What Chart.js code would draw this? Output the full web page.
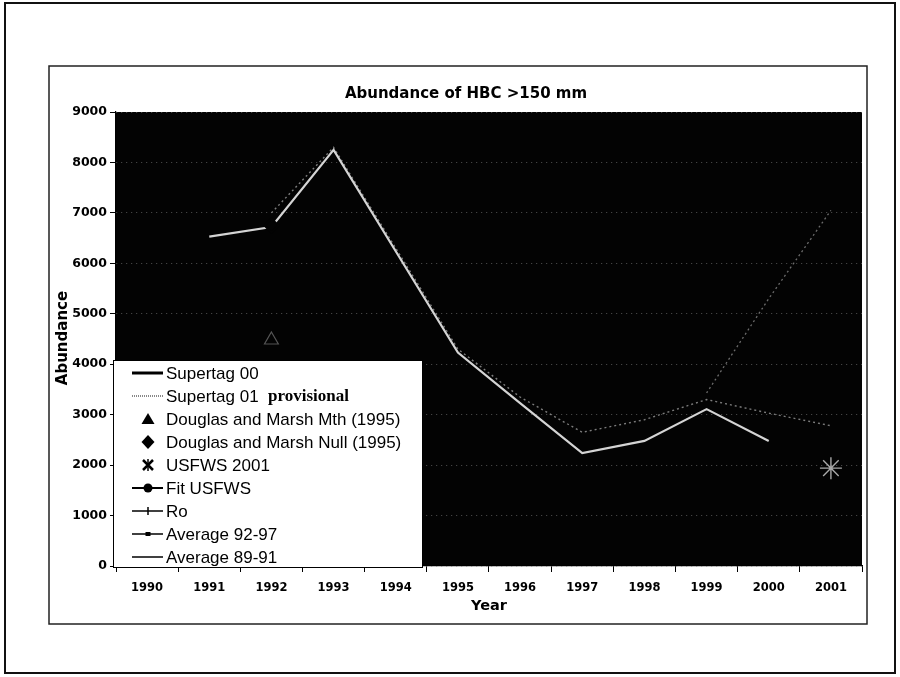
<!DOCTYPE html>
<html><head><meta charset="utf-8">
<script src="https://cdn.jsdelivr.net/npm/chart.js@4.4.1/dist/chart.umd.min.js"></script>
<style>html,body{margin:0;padding:0;background:#fff;}#wrap{width:900px;height:677px;}</style>
</head><body><div id="wrap"><canvas id="c" width="900" height="677"></canvas></div>
<script>
// ---- data ----
const years = ['1990','1991','1992','1993','1994','1995','1996','1997','1998','1999','2000','2001'];
const yMin = 0, yMax = 9000, yStep = 1000;
const chartTitle = 'Abundance of HBC >150 mm';
const xTitle = 'Year';
const yTitle = 'Abundance';
const seriesNames = ['Supertag 00','Supertag 01','Douglas and Marsh Mth (1995)','Douglas and Marsh Null (1995)','USFWS 2001','Fit USFWS','Ro','Average 92-97','Average 89-91'];
const supertag00   = [null,6530,6720,8250,6240,4230,3230,2240,2480,3110,2480,null];
const supertag01   = [null,null,7000,8300,6300,4300,3350,2650,2900,3300,3030,2780];
const douglasMth   = [null,null,4480,null,null,null,null,null,null,null,null,null];
const douglasNull  = [null,null,6750,null,null,null,null,null,null,null,null,null];
const usfws2001    = [null,null,null,null,null,null,null,null,null,null,null,1940];
const fitUsfws     = [null,null,null,null,null,null,null,null,null,null,null,null];
const ro           = [null,null,null,null,null,null,null,null,null,3430,5300,7050];
const avg9297      = [null,null,null,null,null,null,null,null,null,null,null,null];
const avg8991      = [null,null,null,null,null,null,null,null,null,null,null,null];

// ---- geometry / style ----
const PLOT = {left:116, right:862, top:112, bottom:566};

const framePlugin = {
  id:'frame',
  beforeDraw(chart){
    const ctx = chart.ctx, a = chart.chartArea;
    ctx.save();
    ctx.fillStyle = '#fff'; ctx.fillRect(0,0,chart.width,chart.height);
    ctx.strokeStyle = '#111'; ctx.lineWidth = 2;
    ctx.strokeRect(5,3,890,670);
    ctx.lineWidth = 1.5; ctx.strokeStyle = '#222';
    ctx.strokeRect(49,66,818,558);
    ctx.fillStyle = '#030303';
    ctx.fillRect(a.left, a.top, a.right-a.left, a.bottom-a.top);
    ctx.restore();
  },
  afterDraw(chart){
    const ctx = chart.ctx;
    ctx.save();
    ctx.fillStyle = '#000';
    ctx.textAlign = 'center'; ctx.textBaseline = 'middle';
    ctx.font = 'bold 15px "DejaVu Sans"';
    ctx.fillText(chartTitle, 466, 94);
    ctx.font = 'bold 14.5px "DejaVu Sans"';
    ctx.fillText(xTitle, 489, 606);
    ctx.save();
    ctx.translate(63, 338); ctx.rotate(-Math.PI/2);
    ctx.font = 'bold 15px "DejaVu Sans"';
    ctx.fillText(yTitle, 0, 0);
    ctx.restore();

    // legend box
    const L = {x:113, y:360, w:309, h:207};
    ctx.fillStyle = '#fff'; ctx.fillRect(L.x, L.y, L.w, L.h);
    ctx.strokeStyle = '#000'; ctx.lineWidth = 1; ctx.strokeRect(L.x+0.5, L.y+0.5, L.w, L.h);
    const rowY = i => 373 + i*23;
    const x0 = 132, x1 = 163, cx = 148, tx = 166;
    ctx.textAlign = 'left';
    seriesNames.forEach((name,i)=>{
      const y = rowY(i);
      ctx.strokeStyle = '#000'; ctx.fillStyle = '#000'; ctx.setLineDash([]);
      const line = (w,dash,col)=>{ctx.save();ctx.strokeStyle=col||'#000';ctx.lineWidth=w;ctx.setLineDash(dash||[]);ctx.beginPath();ctx.moveTo(x0,y);ctx.lineTo(x1,y);ctx.stroke();ctx.restore();};
      if(i===0){ line(3); }
      else if(i===1){ line(2,[1,1],'#888'); }
      else if(i===2){ ctx.beginPath(); ctx.moveTo(cx,y-6); ctx.lineTo(cx+6.5,y+5); ctx.lineTo(cx-6.5,y+5); ctx.closePath(); ctx.fill(); }
      else if(i===3){ ctx.beginPath(); ctx.moveTo(cx,y-7); ctx.lineTo(cx+6.5,y); ctx.lineTo(cx,y+7); ctx.lineTo(cx-6.5,y); ctx.closePath(); ctx.fill(); }
      else if(i===4){ ctx.lineWidth=2.5; ctx.beginPath(); ctx.moveTo(cx-5,y-5); ctx.lineTo(cx+5,y+5); ctx.moveTo(cx+5,y-5); ctx.lineTo(cx-5,y+5); ctx.stroke(); ctx.lineWidth=1.5; ctx.beginPath(); ctx.moveTo(cx,y-6); ctx.lineTo(cx,y+6); ctx.stroke(); }
      else if(i===5){ line(2); ctx.beginPath(); ctx.arc(cx,y,4.5,0,Math.PI*2); ctx.fill(); }
      else if(i===6){ line(1.5); ctx.lineWidth=1.5; ctx.beginPath(); ctx.moveTo(cx,y-4); ctx.lineTo(cx,y+4); ctx.stroke(); }
      else if(i===7){ line(1.5); ctx.fillRect(cx-2.5,y-2,5,4); }
      else { line(1.5); }
      ctx.fillStyle = '#000';
      ctx.font = '17px "Liberation Sans"';
      ctx.fillText(name, tx, y+1);
      if(i===1){ ctx.font = 'bold 17px "Liberation Serif"'; ctx.fillText('provisional', 268, y+1); }
    });
    ctx.restore();
  }
};

const ds = (label,data,o)=>Object.assign({label,data,spanGaps:false,pointRadius:0,borderWidth:2,fill:false,tension:0},o);

new Chart(document.getElementById('c'), {
  type:'line',
  data:{
    labels: years,
    datasets:[
      ds(seriesNames[3], douglasNull, {showLine:false, pointStyle:'rectRot', pointRadius:7, backgroundColor:'#030303', borderColor:'#030303', order:-2}),
      ds(seriesNames[0], supertag00, {borderColor:'#d4d4d4', borderWidth:2.2, order:-1}),
      ds(seriesNames[1], supertag01, {borderColor:'#7c7c7c', borderWidth:1.4, borderDash:[2,3]}),
      ds(seriesNames[2], douglasMth, {showLine:false, pointStyle:'triangle', pointRadius:8, backgroundColor:'rgba(0,0,0,0)', borderColor:'#555', borderWidth:1.2}),
      ds(seriesNames[4], usfws2001, {showLine:false, pointStyle:'star', pointRadius:11, borderColor:'#a8a8a8', borderWidth:1.4}),
      ds(seriesNames[5], fitUsfws, {borderColor:'#888'}),
      ds(seriesNames[6], ro, {borderColor:'#6c6c6c', borderWidth:1.3, borderDash:[2,3]}),
      ds(seriesNames[7], avg9297, {borderColor:'#111'}),
      ds(seriesNames[8], avg8991, {borderColor:'#111'})
    ]
  },
  options:{
    responsive:false, animation:false, devicePixelRatio:1,
    layout:{padding:{left:0, top:PLOT.top, right:900-PLOT.right, bottom:0}},
    plugins:{legend:{display:false}, title:{display:false}, tooltip:{enabled:false}},
    scales:{
      x:{
        type:'category', offset:true,
        grid:{offset:true, drawOnChartArea:false, tickLength:6, tickColor:'#000', color:'#000'},
        border:{color:'#000', width:1.2},
        ticks:{font:{family:'DejaVu Sans', weight:'bold', size:11.5}, color:'#000', padding:9, maxRotation:0, autoSkip:false},
        afterFit(s){ s.height = 677 - PLOT.bottom; }
      },
      y:{
        min:yMin, max:yMax,
        ticks:{stepSize:yStep, font:{family:'DejaVu Sans', weight:'bold', size:12.5}, color:'#000', padding:3, callback:v=>String(v)},
        grid:{color:'rgba(150,150,150,0.55)', tickColor:'#000', tickLength:6, lineWidth:1},
        border:{color:'#000', width:1.2, dash:[1,4]},
        afterFit(s){ s.width = PLOT.left; }
      }
    }
  },
  plugins:[framePlugin]
});
</script></body></html>
